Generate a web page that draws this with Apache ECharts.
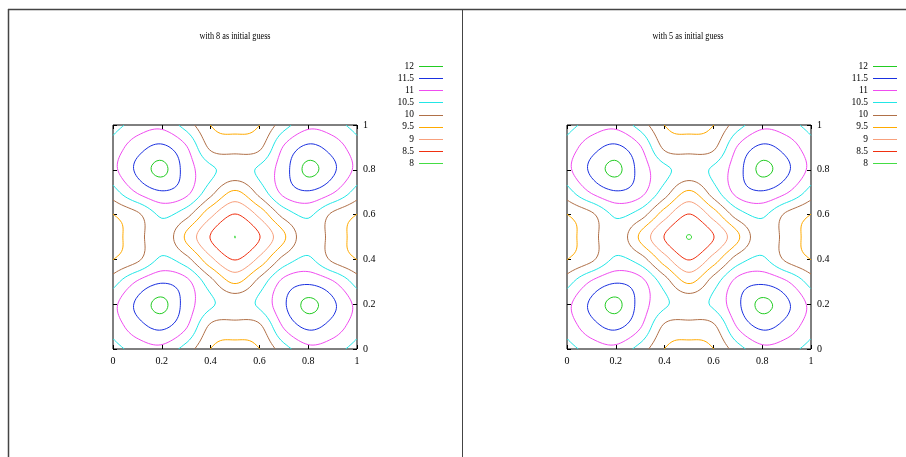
<!DOCTYPE html>
<html>
<head>
<meta charset="utf-8">
<script src="https://cdn.jsdelivr.net/npm/echarts@6/dist/echarts.min.js"></script>
<style>
  html, body { margin: 0; padding: 0; background: #fff; }
  #chart { width: 906px; height: 457px; }
</style>
</head>
<body>
<div id="chart"></div>
<script>
// Contour levels and their line colours (key order, top to bottom)
const levels = [12, 11.5, 11, 10.5, 10, 9.5, 9, 8.5, 8];
const levelColors = ['#22cc22', '#1a30e0', '#f04cf0', '#22e6e6', '#b07048',
                     '#ffaa00', '#f8a07c', '#f03010', '#44dd44'];

// Axis ticks
const tickValues = [0, 0.2, 0.4, 0.6, 0.8, 1];

// Panel titles
const panelTitles = ['with 8 as initial guess', 'with 5 as initial guess'];

// Grid node coordinates (same along x and y)
const nodes = [0, 0.1, 0.2, 0.3, 0.4, 0.5, 0.6, 0.7, 0.8, 0.9, 1];

// Solution values at the grid nodes, row = y node, column = x node
const fieldFrom8 = [
  [10.30, 10.70, 10.85, 10.28,  9.49,  9.30,  9.49, 10.28, 10.85, 10.70, 10.30],
  [10.70, 11.30, 11.60, 11.05,  9.90,  9.80,  9.90, 11.05, 11.60, 11.30, 10.70],
  [10.85, 11.60, 12.12, 11.28, 10.58, 10.35, 10.58, 11.42, 12.12, 11.60, 10.85],
  [10.28, 11.05, 11.45, 11.15, 10.18,  9.42, 10.18, 11.15, 11.40, 11.05, 10.28],
  [ 9.49,  9.90, 10.58, 10.18,  9.13,  8.48,  9.13, 10.18, 10.58,  9.90,  9.49],
  [ 9.30,  9.80, 10.35,  9.42,  8.48, 7.998,  8.48,  9.42, 10.35,  9.80,  9.30],
  [ 9.49,  9.90, 10.58, 10.18,  9.13,  8.48,  9.13, 10.18, 10.58,  9.90,  9.49],
  [10.28, 11.05, 11.45, 11.15, 10.18,  9.42, 10.18, 11.15, 11.45, 11.05, 10.28],
  [10.85, 11.60, 12.12, 11.28, 10.60, 10.35, 10.58, 11.28, 12.12, 11.60, 10.85],
  [10.70, 11.30, 11.60, 11.05,  9.90,  9.80,  9.90, 11.05, 11.60, 11.30, 10.70],
  [10.30, 10.70, 10.85, 10.28,  9.49,  9.30,  9.49, 10.28, 10.85, 10.70, 10.30]
];

const fieldFrom5 = [
  [10.30, 10.70, 10.85, 10.28,  9.49,  9.30,  9.49, 10.28, 10.85, 10.70, 10.30],
  [10.70, 11.30, 11.60, 11.05,  9.90,  9.80,  9.90, 11.05, 11.60, 11.30, 10.70],
  [10.85, 11.60, 12.12, 11.30, 10.58, 10.35, 10.58, 11.40, 12.12, 11.60, 10.85],
  [10.28, 11.05, 11.45, 11.18, 10.25,  9.42, 10.25, 11.18, 11.40, 11.05, 10.28],
  [ 9.49,  9.90, 10.58, 10.25,  9.22,  8.48,  9.22, 10.25, 10.58,  9.90,  9.49],
  [ 9.30,  9.80, 10.35,  9.42,  8.48,  7.99,  8.48,  9.42, 10.35,  9.80,  9.30],
  [ 9.49,  9.90, 10.58, 10.25,  9.22,  8.48,  9.22, 10.25, 10.58,  9.90,  9.49],
  [10.28, 11.05, 11.45, 11.18, 10.25,  9.42, 10.25, 11.18, 11.45, 11.05, 10.28],
  [10.85, 11.60, 12.12, 11.30, 10.62, 10.35, 10.58, 11.30, 12.12, 11.60, 10.85],
  [10.70, 11.30, 11.60, 11.05,  9.90,  9.80,  9.90, 11.05, 11.60, 11.30, 10.70],
  [10.30, 10.70, 10.85, 10.28,  9.49,  9.30,  9.49, 10.28, 10.85, 10.70, 10.30]
];

// ---------- smooth interpolation of the node values ----------
function nodeValue(G, i, j) {
  const n = G.length - 1;
  if (i < 0) return 2 * nodeValue(G, 0, j) - nodeValue(G, 1, j);
  if (i > n) return 2 * nodeValue(G, n, j) - nodeValue(G, n - 1, j);
  if (j < 0) return 2 * nodeValue(G, i, 0) - nodeValue(G, i, 1);
  if (j > n) return 2 * nodeValue(G, i, n) - nodeValue(G, i, n - 1);
  return G[j][i];
}
function catmull(p0, p1, p2, p3, t) {
  return p1 + 0.5 * t * (p2 - p0 + t * (2 * p0 - 5 * p1 + 4 * p2 - p3 + t * (3 * (p1 - p2) + p3 - p0)));
}
function fieldAt(G, x, y) {
  const n = nodes.length - 1;
  const fx = (x - nodes[0]) / (nodes[n] - nodes[0]) * n;
  const fy = (y - nodes[0]) / (nodes[n] - nodes[0]) * n;
  const i = Math.min(Math.floor(fx), n - 1), j = Math.min(Math.floor(fy), n - 1);
  const tx = fx - i, ty = fy - j;
  const r = [];
  for (let dj = -1; dj <= 2; dj++) {
    r.push(catmull(nodeValue(G, i - 1, j + dj), nodeValue(G, i, j + dj),
                   nodeValue(G, i + 1, j + dj), nodeValue(G, i + 2, j + dj), tx));
  }
  return catmull(r[0], r[1], r[2], r[3], ty);
}

// ---------- marching squares ----------
function contourPaths(G, level, N) {
  const F = [];
  for (let j = 0; j <= N; j++) {
    const row = [];
    for (let i = 0; i <= N; i++) row.push(fieldAt(G, i / N, j / N));
    F.push(row);
  }
  const segs = [];
  for (let j = 0; j < N; j++) {
    for (let i = 0; i < N; i++) {
      const v00 = F[j][i], v10 = F[j][i + 1], v11 = F[j + 1][i + 1], v01 = F[j + 1][i];
      const a00 = v00 >= level, a10 = v10 >= level, a11 = v11 >= level, a01 = v01 >= level;
      const e = [];
      if (a00 !== a10) e.push({ k: 'h' + i + '_' + j, p: [(i + (level - v00) / (v10 - v00)) / N, j / N] });
      if (a10 !== a11) e.push({ k: 'v' + (i + 1) + '_' + j, p: [(i + 1) / N, (j + (level - v10) / (v11 - v10)) / N] });
      if (a01 !== a11) e.push({ k: 'h' + i + '_' + (j + 1), p: [(i + (level - v01) / (v11 - v01)) / N, (j + 1) / N] });
      if (a00 !== a01) e.push({ k: 'v' + i + '_' + j, p: [i / N, (j + (level - v00) / (v01 - v00)) / N] });
      if (e.length === 2) segs.push([e[0], e[1]]);
      else if (e.length === 4) {
        const c = (v00 + v10 + v11 + v01) / 4 >= level;
        if (c === a00) { segs.push([e[0], e[1]]); segs.push([e[2], e[3]]); }
        else { segs.push([e[0], e[3]]); segs.push([e[1], e[2]]); }
      }
    }
  }
  const byKey = new Map();
  segs.forEach((s, idx) => {
    for (const end of [0, 1]) {
      const k = s[end].k;
      if (!byKey.has(k)) byKey.set(k, []);
      byKey.get(k).push(idx);
    }
  });
  const used = new Array(segs.length).fill(false);
  const paths = [];
  function walk(idx, from) {
    const pts = [segs[idx][from].p];
    while (true) {
      used[idx] = true;
      const to = 1 - from;
      const k = segs[idx][to].k;
      pts.push(segs[idx][to].p);
      const next = byKey.get(k).find(n => !used[n]);
      if (next === undefined) break;
      from = segs[next][0].k === k ? 0 : 1;
      idx = next;
    }
    return pts.map(p => [+p[0].toFixed(4), +p[1].toFixed(4)]);
  }
  byKey.forEach((list, k) => {
    if (list.length === 1 && !used[list[0]]) {
      const idx = list[0];
      paths.push(walk(idx, segs[idx][0].k === k ? 0 : 1));
    }
  });
  segs.forEach((s, idx) => { if (!used[idx]) paths.push(walk(idx, 0)); });
  return paths;
}

// ---------- chart ----------
const panels = [
  { field: fieldFrom8, left: 113, titleX: 235, legendX: 414 },
  { field: fieldFrom5, left: 567, titleX: 688, legendX: 868 }
];
const plotTop = 125, plotW = 244, plotH = 224;
const textFont = '"Liberation Serif", "Times New Roman", serif';

const grids = [], xAxes = [], yAxes = [], series = [], graphics = [];

function makeAxis(p, position, showLabels, margin) {
  return {
    type: 'value', gridIndex: p, position: position,
    min: tickValues[0], max: tickValues[tickValues.length - 1],
    interval: tickValues[1] - tickValues[0],
    splitLine: { show: false },
    axisLine: { show: false, onZero: false },
    axisTick: { show: true, inside: true, length: 4, lineStyle: { color: '#000', width: 1 } },
    axisLabel: showLabels
      ? { show: true, margin: margin, color: '#000', fontFamily: textFont, fontSize: 10 }
      : { show: false }
  };
}

panels.forEach((pn, p) => {
  grids.push({ left: pn.left, top: plotTop, width: plotW, height: plotH,
               show: true, borderColor: '#000', borderWidth: 1, backgroundColor: 'transparent' });
  xAxes.push(makeAxis(p, 'bottom', true, 7));
  xAxes.push(makeAxis(p, 'top', false, 0));
  yAxes.push(makeAxis(p, 'right', true, 6));
  yAxes.push(makeAxis(p, 'left', false, 0));

  levels.forEach((lv, li) => {
    contourPaths(pn.field, lv, 200).forEach(path => {
      series.push({
        type: 'line', name: String(lv), xAxisIndex: p * 2, yAxisIndex: p * 2,
        data: path, showSymbol: false, symbol: 'none', silent: true, animation: false,
        lineStyle: { color: levelColors[li], width: 1 }
      });
    });
  });

  // panel title
  graphics.push({ type: 'text', x: pn.titleX, y: 36, scaleX: 0.82, silent: true,
    style: { text: panelTitles[p], fill: '#000', font: '10px ' + textFont,
             align: 'center', verticalAlign: 'middle', textAlign: 'center', textVerticalAlign: 'middle' } });

  // key
  levels.forEach((lv, li) => {
    const y = 66 + li * 12.125;
    graphics.push({ type: 'text', x: pn.legendX, y: y, scaleX: 0.9, silent: true,
      style: { text: String(lv), fill: '#000', font: '10.5px ' + textFont,
               align: 'right', verticalAlign: 'middle', textAlign: 'right', textVerticalAlign: 'middle' } });
    graphics.push({ type: 'line', silent: true,
      shape: { x1: pn.legendX + 5, y1: Math.round(y) + 0.5, x2: pn.legendX + 29, y2: Math.round(y) + 0.5 },
      style: { stroke: levelColors[li], lineWidth: 1 } });
  });
});

// page frame
graphics.push({ type: 'line', silent: true, shape: { x1: 8, y1: 9.5, x2: 906, y2: 9.5 }, style: { stroke: '#444', lineWidth: 1.5 } });
graphics.push({ type: 'line', silent: true, shape: { x1: 8.5, y1: 9, x2: 8.5, y2: 457 }, style: { stroke: '#444', lineWidth: 1.5 } });
graphics.push({ type: 'line', silent: true, shape: { x1: 462.5, y1: 9, x2: 462.5, y2: 457 }, style: { stroke: '#444', lineWidth: 1 } });

const chart = echarts.init(document.getElementById('chart'), null, { renderer: 'canvas' });
chart.setOption({
  backgroundColor: '#fff',
  animation: false,
  grid: grids,
  xAxis: xAxes,
  yAxis: yAxes,
  series: series,
  graphic: graphics
});
</script>
</body>
</html>
